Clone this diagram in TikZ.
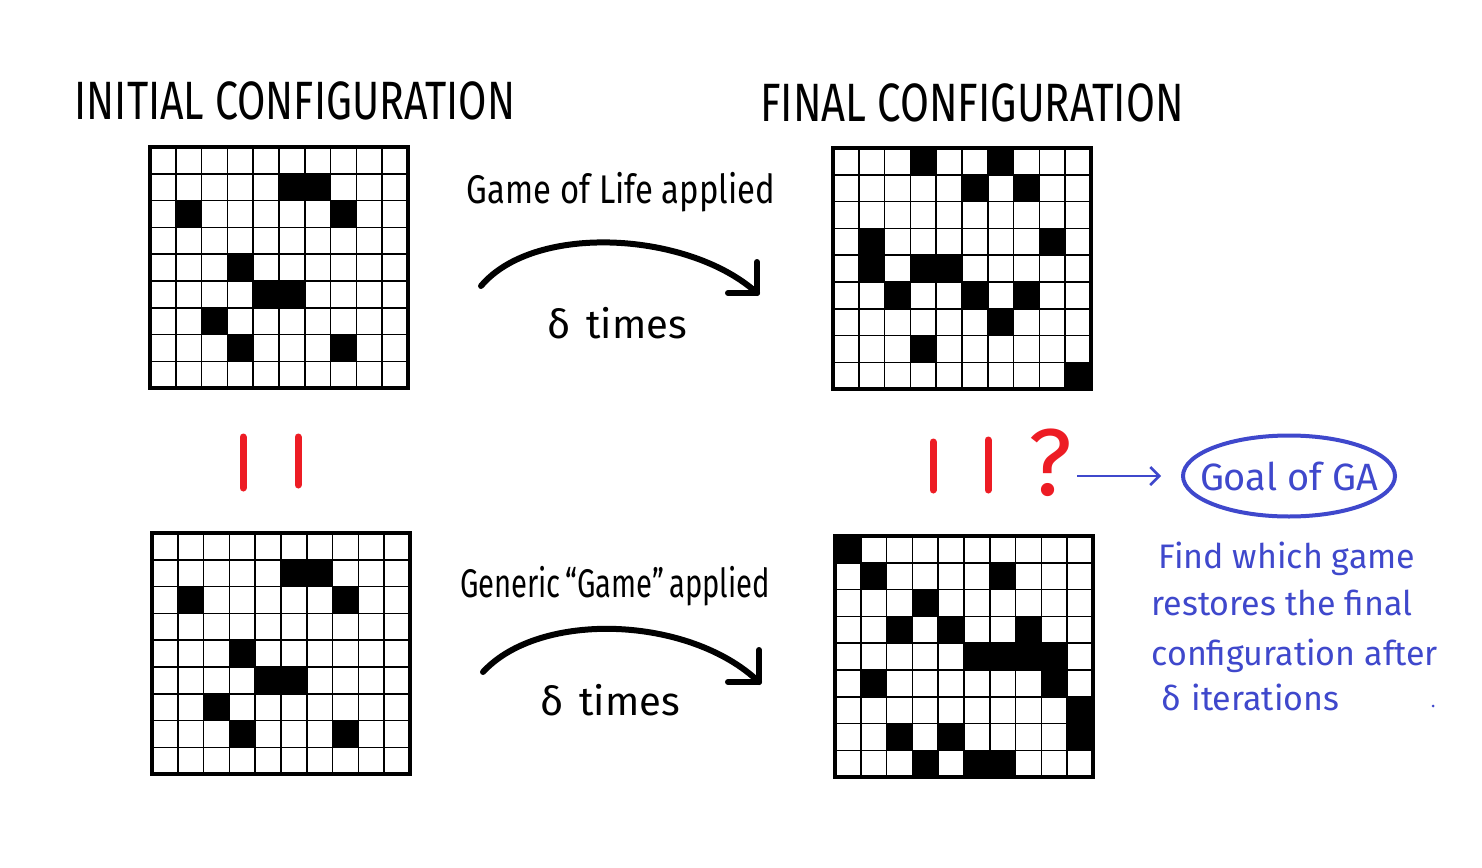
\documentclass[tikz,border=0pt]{standalone}
\usepackage{fontspec}
\setmainfont{Fira Sans}
\usetikzlibrary{arrows.meta,shapes.geometric}
\definecolor{gared}{HTML}{ED1C24}
\definecolor{gablue}{HTML}{3F48CC}
\tikzset{
  gridline/.style={line width=1.6pt},
  frame/.style={line width=4pt},
  cell/.style={fill=black},
  title/.style={font=\fontsize{54}{60}\selectfont,anchor=base},
  caption/.style={font=\fontsize{40}{46}\selectfont,anchor=base},
  flow/.style={line width=6pt,line cap=round,line join=round},
  bar/.style={draw=gared,line width=7pt,line cap=round},
  note/.style={font=\fontsize{34}{46}\selectfont,text=gablue,anchor=base west},
  goalbox/.style={ellipse,draw=gablue,line width=4pt,minimum width=212pt,minimum height=81pt,inner sep=0pt,text=gablue,font=\fontsize{38}{44}\selectfont},
}
% 10 x 9 board, #1 name, #2/#3 top left corner, #4 black cells col/row
\newcommand\lifegrid[4]{%
  \begin{scope}[shift={(#2,#3)}]
    \coordinate (#1) at (0,0);
    \foreach \cx/\ry in {#4}
      \fill[cell] (\cx*25.8,\ry*26.8) rectangle ++(25.8,26.8);
    \foreach \i in {1,...,9}
      \draw[gridline] (\i*25.8,0) -- ++(0,241.2);
    \foreach \j in {1,...,8}
      \draw[gridline] (0,\j*26.8) -- ++(258,0);
    \draw[frame] (0,0) rectangle (258,241.2);
  \end{scope}}

\begin{document}
\begin{tikzpicture}[x=1pt,y=-1pt]
  \path[use as bounding box,fill=white] (0,0) rectangle (1482,867);
  % titles
  \node[title] (inittitle) at (295,119) {\scalebox{.76}[1]{INITIAL CONFIGURATION}};
  \node[title] (finaltitle) at (972,121) {\scalebox{.775}[1]{FINAL CONFIGURATION}};
  % boards
  \lifegrid{initgrid}{150}{147}{5/1,6/1,1/2,7/2,3/4,4/5,5/5,2/6,3/7,7/7}
  \lifegrid{finalgrid}{833}{148}{3/0,6/0,5/1,7/1,1/3,8/3,1/4,3/4,4/4,2/5,5/5,7/5,6/6,3/7,9/8}
  \lifegrid{copygrid}{152}{533}{5/1,6/1,1/2,7/2,3/4,4/5,5/5,2/6,3/7,7/7}
  \lifegrid{guessgrid}{835}{536}{0/0,1/1,6/1,3/2,2/3,4/3,7/3,5/4,6/4,7/4,8/4,1/5,8/5,9/6,2/7,4/7,9/7,3/8,5/8,6/8}
  % upper step
  \node[caption] (golcap) at (621,203) {\scalebox{.82}[1]{Game of Life applied}};
  \node[caption] (toptimes) at (617,338) {δ\hspace{.4em}times};
  \coordinate (topstart) at (481,286);
  \coordinate (toptip) at (757,293);
  \draw[flow] (topstart) .. controls (535,222) and (690,232) .. (toptip);
  \draw[flow] (toptip) -- ++(0,-31) (toptip) -- ++(-29,0);
  % lower step
  \node[caption] (gencap) at (615,597) {\scalebox{.73}[1]{Generic\,“Game”\,applied}};
  \node[caption] (bottimes) at (610,715) {δ\hspace{.4em}times};
  \coordinate (botstart) at (483,672);
  \coordinate (bottip) at (759,682);
  \draw[flow] (botstart) .. controls (540,610) and (690,616) .. (bottip);
  \draw[flow] (bottip) -- ++(0,-32) (bottip) -- ++(-31,0);
  % equal signs
  \draw[bar] (243,437) -- (243,488) (298,437) -- (298,485);
  \draw[bar] (933,442) -- (933,490) (988,440) -- (988,490);
  \node[text=gared,font=\fontsize{95}{100}\selectfont] (qmark) at (1050,463) {?};
  % goal
  \node[goalbox] (goal) at (1289,476) {\makebox[0pt]{Goal of GA}};
  \draw[gablue,line width=2.5pt,-{Straight Barb[length=9pt,width=18pt]},shorten <=2pt,shorten >=20pt] (qmark.east |- goal.west) -- (goal.west);
  \node[note] (line1) at (1155,568) {Find which game};
  \node[note] (line2) at (1148,615) {restores the final};
  \node[note] (line3) at (1148,665) {configuration after};
  \node[note] (line4) at (1158,710) {δ\hspace{.3em}iterations};
  \fill[gablue] (1433,706) circle (1.5);
\end{tikzpicture}
\end{document}
